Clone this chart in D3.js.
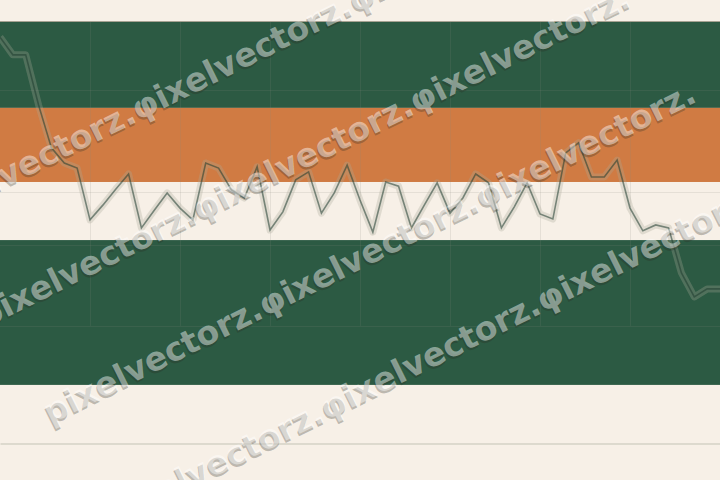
<!DOCTYPE html>
<html>
<head>
<meta charset="utf-8">
<script src="https://cdn.jsdelivr.net/npm/d3@7"></script>
<style>
  html, body { margin: 0; padding: 0; background: #f7f0e7; }
  svg { display: block; }
</style>
</head>
<body>
<div id="chart"></div>
<script>
// ---- data ----
const seriesValues = [96.4, 92.2, 92.2, 80.3, 70.1, 66.5, 65.3, 53.0, 56.5, 60.3,
  63.9, 51.1, 55.3, 59.4, 55.8, 53.0, 66.5, 65.3, 60.1, 58.2,
  65.6, 50.6, 54.9, 62.5, 64.4, 54.6, 59.4, 66.0, 57.7, 50.1,
  62.0, 61.0, 51.1, 56.5, 61.8, 54.6, 58.2, 63.9, 61.8, 51.1,
  56.1, 61.8, 54.4, 53.2, 68.9, 71.3, 63.2, 63.2, 67.2, 55.8,
  50.4, 51.8, 51.1, 40.4, 34.7, 36.6, 36.6];
const bandLow  = [79.6, 62.0, 13.8];
const bandHigh = [100, 79.6, 48.2];
const bandKind = ["green", "orange", "green"];
const xGridTicks = [7, 14, 21, 28, 35, 42, 49];
const yGridTicks = [83.8, 59.6, 47.0, 27.8];
const watermarkText = "pixelvectorz.φixelvectorz.φixelvectorz.";
const watermarkRowV = [170, 287, 402, 522];
const watermarkRowU = [-170, -160, -144, -135];

// ---- styles ----
const W = 720, H = 480;
const colours = { green: "#2c5a43", orange: "#d07b43", bg: "#f7f0e7" };

const svg = d3.select("#chart").append("svg")
  .attr("width", W).attr("height", H);

svg.append("rect").attr("width", W).attr("height", H).attr("fill", colours.bg);

const x = d3.scaleLinear().domain([0, seriesValues.length - 1]).range([0, W]);
const y = d3.scaleLinear().domain([0, 100]).range([443, 22]);

// bands
svg.append("g").selectAll("rect")
  .data(bandLow.map((lo, i) => ({ lo, hi: bandHigh[i], kind: bandKind[i] })))
  .join("rect")
  .attr("x", 0).attr("width", W)
  .attr("y", d => y(d.hi))
  .attr("height", d => y(d.lo) - y(d.hi))
  .attr("fill", d => colours[d.kind]);

// top border line
svg.append("line")
  .attr("x1", 0).attr("x2", W)
  .attr("y1", y(100) - 0.5).attr("y2", y(100) - 0.5)
  .attr("stroke", "#a6a292").attr("stroke-width", 1);

// grid
const grid = svg.append("g").attr("stroke", "#8a8a7a").attr("stroke-opacity", 0.16).attr("stroke-width", 1);
grid.selectAll("line.v").data(xGridTicks).join("line")
  .attr("class", "v")
  .attr("x1", d => Math.round(x(d)) + 0.5).attr("x2", d => Math.round(x(d)) + 0.5)
  .attr("y1", y(100)).attr("y2", y(27.8));
grid.selectAll("line.h").data(yGridTicks).join("line")
  .attr("class", "h")
  .attr("x1", 0).attr("x2", W)
  .attr("y1", d => Math.round(y(d)) + 0.5).attr("y2", d => Math.round(y(d)) + 0.5);

// baseline axis
const axis = svg.append("g")
  .attr("transform", `translate(0,${Math.round(y(0)) + 0.5})`)
  .call(d3.axisBottom(x).tickValues([]).tickSizeOuter(0));
axis.select(".domain").attr("stroke", "#c3c3b5");

// line series
const lineGen = d3.line().x((d, i) => x(i)).y(d => y(d));
svg.append("path").datum(seriesValues)
  .attr("d", lineGen)
  .attr("fill", "none")
  .attr("stroke", "#a8a898").attr("stroke-opacity", 0.3)
  .attr("stroke-width", 7).attr("stroke-linejoin", "round");
svg.append("path").datum(seriesValues)
  .attr("d", lineGen)
  .attr("fill", "none")
  .attr("stroke", "#1f3d2f").attr("stroke-opacity", 0.55)
  .attr("stroke-width", 1.6).attr("stroke-linejoin", "miter");

// watermark
const wm = svg.append("g").attr("transform", "rotate(-26.5)")
  .style("font-family", "'DejaVu Sans', sans-serif")
  .style("font-weight", "bold")
  .style("font-size", "33px");
const rows = watermarkRowV.map((v, i) => ({ v, u: watermarkRowU[i] }));
wm.selectAll("text.s").data(rows).join("text")
  .attr("class", "s")
  .attr("x", d => d.u - 1.5).attr("y", d => d.v + 2)
  .attr("fill", "#2a2a20").attr("fill-opacity", 0.28)
  .text(watermarkText);
wm.selectAll("text.f").data(rows).join("text")
  .attr("class", "f")
  .attr("x", d => d.u).attr("y", d => d.v)
  .attr("fill", "#ffffff").attr("fill-opacity", 0.45)
  .text(watermarkText);
</script>
</body>
</html>
